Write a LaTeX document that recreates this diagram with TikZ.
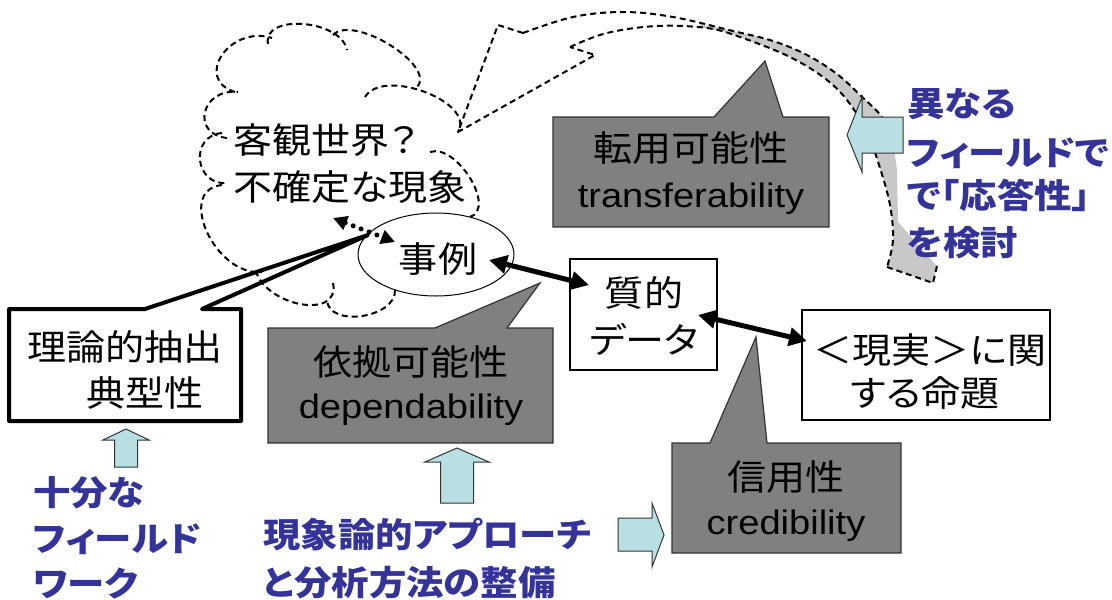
\documentclass[tikz,border=0pt]{standalone}
\usepackage{fontspec}
\usepackage{graphicx}
\setmainfont{Liberation Sans}
\newfontfamily\jp{Noto Sans CJK JP}[RawFeature=+palt]
\usetikzlibrary{arrows.meta,shapes.geometric}
\definecolor{boxgray}{HTML}{808080}
\definecolor{bandgray}{HTML}{C8C8C8}
\definecolor{cyanfill}{HTML}{B8DFE1}
\definecolor{blu}{HTML}{333399}
\newcommand\jt[1]{\scalebox{1.1}[1]{\jp\fontsize{35.5}{40}\selectfont #1}}
\newcommand\lt[1]{\scalebox{1.12}[1]{\fontsize{34}{38}\selectfont #1}}
\newcommand\bt[1]{\scalebox{1.1}[1]{\jp\bfseries\fontsize{34}{40}\selectfont #1}}
\begin{document}
\begin{tikzpicture}[x=1pt,y=-1pt,
  cloudline/.style={line width=2pt, dash pattern=on 6pt off 4pt},
  bandline/.style={line width=2pt, dash pattern=on 6pt off 4pt, line join=round},
  graycall/.style={fill=boxgray, draw=black!80, line width=1.2pt},
  whitebox/.style={draw=black, line width=1.2pt, fill=white, inner sep=0pt},
  blockarrow/.style={fill=cyanfill, draw=black!80, line width=1pt},
  dbl/.style={line width=5pt, {Triangle[length=18pt,width=18pt]}-{Triangle[length=18pt,width=18pt]}},
  txt/.style={inner sep=0pt, anchor=base},
  bluetxt/.style={inner sep=0pt, anchor=base west, text=blu}]
\useasboundingbox (0,0) rectangle (1112,600);
\fill[white] (0,0) rectangle (1112,600);

% band of the curved arrow (gray underside)
\fill[bandgray] plot[smooth, tension=0.6] coordinates {(700,24) (733,31) (773,41) (807,55) (837,74) (860,95) (882,117) (893,140)}
  -- (897,170) -- (898,222) -- (937,266) -- (933,283) -- (887,267)
  -- plot[smooth, tension=0.6] coordinates {(887,267) (893,240) (890,205) (880,168) (868,135) (850,104) (827,80) (790,57) (740,37) (700,27)} -- cycle;

% cloud
\draw[cloudline] (227,138) .. controls (190.3,134) and (201.3,88) .. (238,92);
\draw[cloudline] (235,92) .. controls (193,78.7) and (230,24.7) .. (272,38);
\draw[cloudline] (268,44) .. controls (262,13.3) and (341,19.3) .. (347,50);
\draw[cloudline] (333,35) .. controls (353,13.7) and (437,65.7) .. (417,87);
\draw[cloudline] (365,97) .. controls (383,67) and (476,102) .. (458,132);
\draw[cloudline] (430,152) .. controls (456.7,143.3) and (496.7,208.3) .. (470,217);
\draw[cloudline] (395,290) .. controls (396.3,318) and (328.3,328) .. (327,300);
\draw[cloudline] (333,283) .. controls (341,321) and (263,306) .. (255,268);
\draw[cloudline] (222,185) .. controls (175.3,189.7) and (215.3,276.7) .. (262,272);
\draw[cloudline] (222,133) .. controls (189.3,135.7) and (194.3,185.7) .. (227,183);

% curved dashed arrow
\coordinate (arrTip) at (458,132);
\draw[bandline] plot[smooth, tension=0.6] coordinates {(523,33) (573,17) (623,12) (673,17) (733,31) (773,41) (807,55) (837,74) (860,95) (882,117) (893,140)};
\draw[bandline] plot[smooth, tension=0.6] coordinates {(570,47) (607,33) (657,26) (707,28) (740,37) (790,57) (827,80) (850,104) (868,135) (880,168) (890,205) (893,240) (887,267)};
\draw[bandline] (887,267) -- (933,283) -- (937,266);
\draw[bandline] (523,33) -- (498,25) -- (arrTip) -- (595,55) -- (570,47);

% case ellipse
\node[draw, ellipse, fill=white, line width=1pt, minimum width=156pt, minimum height=83pt, inner sep=0pt] (case) at (436,254.5) {};

% theory callout (open pointer)
\draw[line width=4pt, line join=round] (9,309) -- (145,309) -- (368,235) -- (202,309) -- (241,309) -- (241,421) -- (9,421) -- cycle;

% gray callouts
\draw[graycall] (553,117) -- (714,117) -- (765,61) -- (783,117) -- (829,117) -- (829,227) -- (553,227) -- cycle;
\draw[graycall] (268,328) -- (435,328) -- (540,283) -- (507,328) -- (553,328) -- (553,443) -- (268,443) -- cycle;
\draw[graycall] (672,443) -- (710,443) -- (756,337) -- (767,443) -- (901,443) -- (901,553) -- (672,553) -- cycle;

% white boxes
\node[whitebox, minimum width=147pt, minimum height=111pt] (data) at (643.5,314.5) {};
\node[whitebox, minimum width=248pt, minimum height=110pt] (prop) at (926,365) {};

% connectors
\coordinate (caseR) at (489,260);
\coordinate (dataL) at (589,285);
\coordinate (dataR) at (698,315);
\coordinate (propL) at (807,341);
\draw[dbl] (caseR) -- (dataL);
\draw[dbl] (dataR) -- (propL);
\coordinate (cloudP) at (333,218);
\coordinate (caseP) at (395,242);
\draw[line width=5pt, dash pattern=on 0pt off 8.5pt, line cap=round,
  {Triangle[length=14pt,width=14pt]}-{Triangle[length=14pt,width=14pt]}] (cloudP) -- (caseP);

% block arrows
\draw[blockarrow] (126,429) -- (149,440) -- (137.5,440) -- (137.5,467) -- (114.5,467) -- (114.5,440) -- (103,440) -- cycle;
\draw[blockarrow] (457,448) -- (489,462) -- (473.5,462) -- (473.5,503) -- (440.5,503) -- (440.5,462) -- (425,462) -- cycle;
\draw[blockarrow] (618,518) -- (652,518) -- (652,503) -- (664,535) -- (652,567) -- (652,551) -- (618,551) -- cycle;
\draw[blockarrow] (847,135) -- (862,97) -- (862,117) -- (903,117) -- (903,153) -- (862,153) -- (862,172) -- cycle;

% texts
\node[txt, anchor=base west] (cw1) at (233,153) {\jt{客観世界？}};
\node[txt, anchor=base west] (cw2) at (233,200) {\jt{不確定な現象}};
\node[txt] (tcase) at (438,272) {\jt{事例}};
\node[txt] (td1) at (644,306) {\jt{質的}};
\node[txt] (td2) at (644,353) {\jt{データ}};
\node[txt] (tp1) at (930,363) {\jt{＜現実＞に関}};
\node[txt] (tp2) at (925,406) {\jt{する命題}};
\node[txt] (tt1) at (125,360) {\jt{理論的抽出}};
\node[txt] (tt2) at (145,406) {\jt{典型性}};
\node[txt] (tr1) at (691,161) {\jt{転用可能性}};
\node[txt] (tr2) at (691,207) {\lt{transferability}};
\node[txt] (de1) at (411,375) {\jt{依拠可能性}};
\node[txt] (de2) at (411,418) {\lt{dependability}};
\node[txt] (cr1) at (786,490) {\jt{信用性}};
\node[txt] (cr2) at (786,534) {\lt{credibility}};

\node[bluetxt] (r1) at (907,116) {\bt{異なる}};
\node[bluetxt] (r2) at (907,165) {\bt{フィールドで}};
\node[bluetxt] (r3) at (907,208) {\bt{で「応答性」}};
\node[bluetxt] (r4) at (907,255) {\bt{を検討}};
\node[bluetxt] (l1) at (33,505) {\bt{十分な}};
\node[bluetxt] (l2) at (33,551) {\bt{フィールド}};
\node[bluetxt] (l3) at (33,596) {\bt{ワーク}};
\node[bluetxt] (b1) at (263,547) {\bt{現象論的アプローチ}};
\node[bluetxt] (b2) at (263,595) {\bt{と分析方法の整備}};
\end{tikzpicture}
\end{document}
